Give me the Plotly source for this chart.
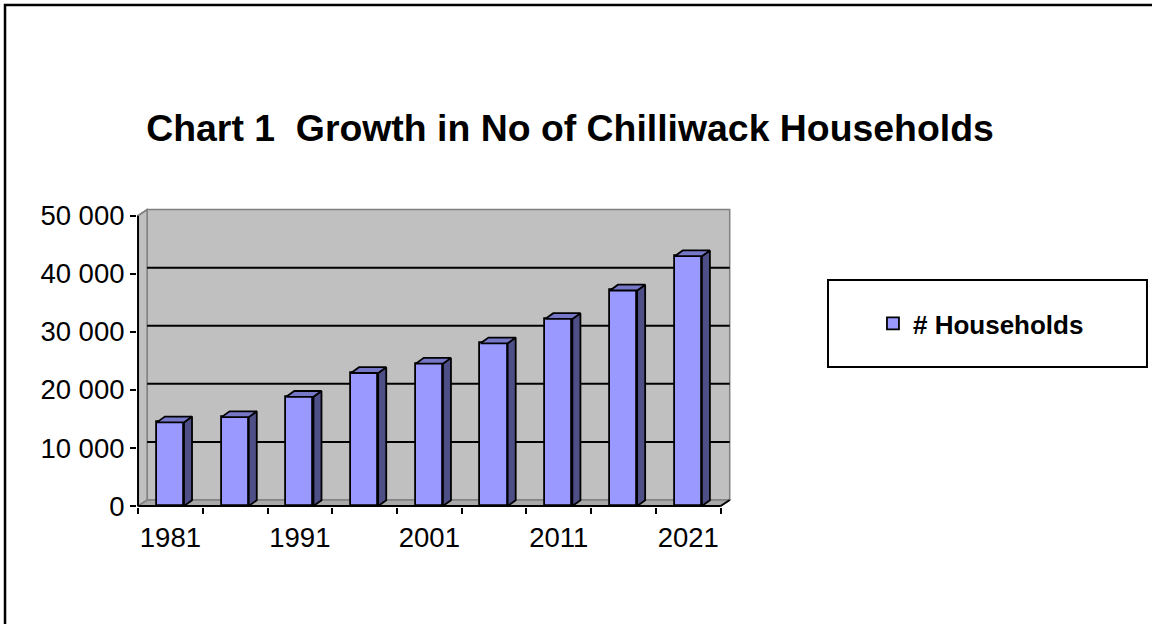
import plotly.graph_objects as go

# ---- data ----
years = [1981, 1986, 1991, 1996, 2001, 2006, 2011, 2016, 2021]
households = [14400, 15300, 18800, 22900, 24500, 28000, 32200, 37100, 43000]
label_years = [1981, 1991, 2001, 2011, 2021]
y_ticks = [0, 10000, 20000, 30000, 40000, 50000]
y_tick_text = ["0", "10 000", "20 000", "30 000", "40 000", "50 000"]
series_name = "# Households"
title_text = "Chart 1\u00a0 Growth in No of Chilliwack Households"

# ---- styling / geometry constants ----
FONT = "Liberation Sans, Arial, sans-serif"
FRONT = "#9999FF"
SIDE = "#4F4F88"
TOP = "#7777C8"
WALL = "#C0C0C0"
WALL_EDGE = "#808080"
FLOOR = "#A8A8A8"

step = years[1] - years[0]
X0 = years[0] - step / 2
X1 = years[-1] + step / 2
YMAX = y_ticks[-1]
dx, dy = 0.70, 1030        # depth of the back wall (data units)
bdx, bdy = 0.62, 1000      # depth of each column
bw = 2.1                   # column width (years)

fig = go.Figure()

shapes = []
def poly(xs, ys):
    return "M " + " L ".join(f"{x},{y}" for x, y in zip(xs, ys)) + " Z"

# back wall
shapes.append(dict(type="path", xref="x", yref="y", layer="below",
                   path=poly([X0 + dx, X1 + dx, X1 + dx, X0 + dx], [dy, dy, YMAX + dy, YMAX + dy]),
                   fillcolor=WALL, line=dict(color=WALL_EDGE, width=1.5)))
# side wall
shapes.append(dict(type="path", xref="x", yref="y", layer="below",
                   path=poly([X0, X0 + dx, X0 + dx, X0], [0, dy, YMAX + dy, YMAX]),
                   fillcolor=WALL, line=dict(color=WALL_EDGE, width=1.5)))
# floor
shapes.append(dict(type="path", xref="x", yref="y", layer="below",
                   path=poly([X0, X1, X1 + dx, X0 + dx], [0, 0, dy, dy]),
                   fillcolor=FLOOR, line=dict(color=WALL_EDGE, width=1.5)))
# gridlines on the back wall
for v in y_ticks[1:-1]:
    shapes.append(dict(type="line", xref="x", yref="y", layer="below",
                       x0=X0 + dx, x1=X1 + dx, y0=v + dy, y1=v + dy,
                       line=dict(color="black", width=2)))
# front axis lines + corner diagonals
shapes.append(dict(type="line", xref="x", yref="y", layer="above",
                   x0=X0, x1=X0, y0=0, y1=YMAX, line=dict(color="black", width=2)))
shapes.append(dict(type="line", xref="x", yref="y", layer="above",
                   x0=X0, x1=X1, y0=0, y1=0, line=dict(color="black", width=2)))
shapes.append(dict(type="line", xref="x", yref="y", layer="above",
                   x0=X0, x1=X0 + dx, y0=YMAX, y1=YMAX + dy, line=dict(color=WALL_EDGE, width=1.5)))
shapes.append(dict(type="line", xref="x", yref="y", layer="above",
                   x0=X1, x1=X1 + dx, y0=0, y1=dy, line=dict(color="black", width=2)))

# legend frame and outer frame (paper coords)
shapes.append(dict(type="rect", xref="paper", yref="paper",
                   x0=1.1633, x1=1.7003, y0=0.4682, y1=0.7592,
                   line=dict(color="black", width=2), fillcolor="rgba(0,0,0,0)"))
shapes.append(dict(type="rect", xref="paper", yref="paper",
                   x0=-0.2222, x1=1.85, y0=-0.6, y1=1.679,
                   line=dict(color="black", width=2.5), fillcolor="rgba(0,0,0,0)"))

# front faces of the columns
fig.add_trace(go.Bar(
    x=years, y=households, width=bw, name=f"<b>{series_name}</b>",
    marker=dict(color=FRONT, line=dict(color="black", width=1.8)),
    hoverinfo="skip", showlegend=True,
))

# side faces and top faces derived from the data
sx, sy, tx, ty = [], [], [], []
for x, v in zip(years, households):
    xr = x + bw / 2
    xl = x - bw / 2
    sx += [xr, xr + bdx, xr + bdx, xr, xr, None]
    sy += [0, bdy, v + bdy, v, 0, None]
    tx += [xl, xr, xr + bdx, xl + bdx, xl, None]
    ty += [v, v, v + bdy, v + bdy, v, None]

fig.add_trace(go.Scatter(x=sx, y=sy, mode="lines", fill="toself", fillcolor=SIDE,
                         line=dict(color="black", width=1.8), hoverinfo="skip", showlegend=False))
fig.add_trace(go.Scatter(x=tx, y=ty, mode="lines", fill="toself", fillcolor=TOP,
                         line=dict(color="black", width=1.8), hoverinfo="skip", showlegend=False))

boundaries = [X0 + i * step for i in range(len(years) + 1)]

fig.update_layout(
    width=1152, height=624,
    margin=dict(l=137, r=421, t=208, b=117),
    paper_bgcolor="white", plot_bgcolor="white",
    font=dict(family=FONT, color="black"),
    shapes=shapes,
    title=dict(text=f"<b>{title_text}</b>", x=0.4948, xanchor="center",
               y=0.795, yanchor="middle", yref="container",
               font=dict(size=37.4, family=FONT, color="black")),
    legend=dict(x=1.239, xanchor="left", y=0.6137, yanchor="middle",
                bgcolor="rgba(0,0,0,0)", borderwidth=0,
                font=dict(size=26, family=FONT, color="black")),
    xaxis=dict(range=[X0 - 0.08, X1 + dx + 0.1], showgrid=False, zeroline=False, showline=False,
               tickmode="array", tickvals=label_years, ticktext=[str(y) for y in label_years],
               ticks="outside", ticklen=6, tickcolor="rgba(0,0,0,0)",
               tickfont=dict(size=27.5, family=FONT, color="black"),
               minor=dict(tickmode="array", tickvals=boundaries, ticks="outside",
                          ticklen=6, tickwidth=2, tickcolor="black", showgrid=False)),
    yaxis=dict(range=[-170, YMAX + dy + 270], showgrid=False, zeroline=False, showline=False,
               tickmode="array", tickvals=y_ticks, ticktext=y_tick_text,
               ticks="outside", ticklen=6, tickwidth=2, tickcolor="black",
               tickfont=dict(size=27.5, family=FONT, color="black")),
    bargap=0,
)

fig.write_html("out.html")
